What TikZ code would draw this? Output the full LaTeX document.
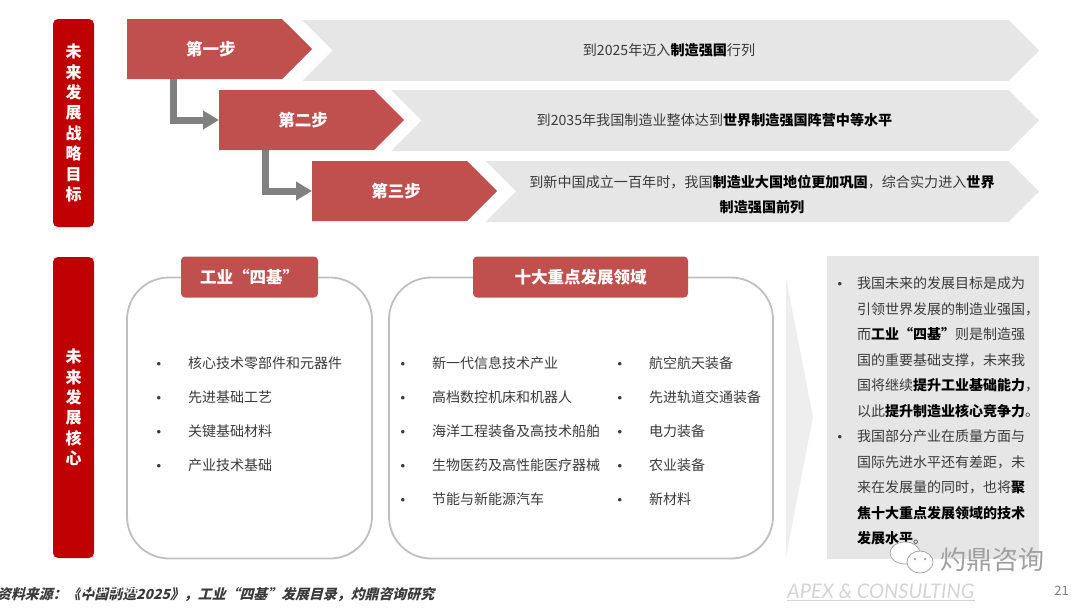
\documentclass[tikz,border=0pt]{standalone}
\usepackage{fontspec}
\usepackage{xcolor}
\usetikzlibrary{arrows.meta,positioning,calc,shapes.symbols}
\setmainfont{Noto Sans CJK SC}
\newfontfamily\bulletfont{Liberation Sans}
\newfontfamily\slantfont[FakeSlant=0.25]{Noto Sans CJK SC}
\newfontfamily\brandfont{Lato}[ItalicFont=* Italic]
\definecolor{Crimson}{HTML}{C00000}
\definecolor{Brick}{HTML}{BF504E}
\definecolor{Band}{HTML}{E6E6E6}
\definecolor{Frame}{HTML}{BFBFBF}
\definecolor{Pale}{HTML}{EEEEEE}
\definecolor{Link}{HTML}{808080}
\definecolor{Body}{HTML}{3A3A3A}
\definecolor{Faint}{HTML}{D4D4D4}
\newcommand{\pt}[1]{\textcolor{black}{\textbf{#1}}}
\newcommand{\dotitem}{\llap{{\bulletfont\fontsize{13}{13}\selectfont\textbullet}\hspace{27pt}}}
\newcommand{\dotpara}{\llap{{\bulletfont\fontsize{13}{13}\selectfont\textbullet}\hspace{15pt}}}
\tikzset{
  sidebar/.style={draw=none,fill=Crimson,rounded corners=5pt,text=white,font=\fontsize{16}{20.4}\selectfont\bfseries,align=center,minimum width=41pt},
  stepbox/.style={shape=signal,signal to=east,signal pointer angle=90,fill=Brick,text=white,font=\fontsize{16.5}{20}\selectfont\bfseries,minimum width=185pt,minimum height=60pt,anchor=west,inner sep=0pt,outer sep=0pt,execute at begin node=\hspace{13pt}},
  bandbox/.style={shape=signal,signal to=east,signal from=west,signal pointer angle=90,fill=Band,minimum height=61pt,anchor=east,inner sep=0pt,outer sep=0pt},
  bandtext/.style={text=Body,font=\fontsize{14.1}{25}\selectfont,inner sep=0pt,align=center},
  framebox/.style={draw=Frame,line width=1.8pt,rounded corners=42pt,fill=white},
  tabbox/.style={fill=Brick,text=white,rounded corners=4pt,font=\fontsize{16.5}{20}\selectfont\bfseries,minimum height=41pt},
  listitem/.style={anchor=west,text=Body,font=\fontsize{14}{16}\selectfont,inner sep=0pt},
  steplink/.style={draw=Link,line width=7pt,-{Triangle[length=16pt,width=18pt]}}
}
\begin{document}
\begin{tikzpicture}[x=1pt,y=-1pt]
  \useasboundingbox (0,0) rectangle (1080,608);
  % side labels
  \node[sidebar,minimum height=208pt] (goal) at (73.5,123) {未\\来\\发\\展\\战\\略\\目\\标};
  \node[sidebar,minimum height=301pt] (core) at (73.5,407.5) {未\\来\\发\\展\\核\\心};
  % bands behind the steps
  \node[bandbox,minimum width=737pt] (banda) at (1039,50.5) {};
  \node[bandbox,minimum width=648pt] (bandb) at (1039,120.5) {};
  \node[bandbox,minimum width=553.5pt] (bandc) at (1039,191.5) {};
  \node[bandtext] (bandatext) at (669,50) {到2025年迈入\pt{制造强国}行列};
  \node[bandtext] (bandbtext) at (714.5,120) {到2035年我国制造业整体达到\pt{世界制造强国阵营中等水平}};
  \node[bandtext] (bandctext) at (762,194.5) {到新中国成立一百年时，我国\pt{制造业大国地位更加巩固}，综合实力进入\pt{世界}\\\pt{制造强国前列}};
  % steps
  \node[stepbox] (stepa) at (127,49) {第一步};
  \node[stepbox] (stepb) at (219,120) {第二步};
  \node[stepbox] (stepc) at (312,191) {第三步};
  \draw[steplink] (stepa.south west)++(46.5,0) |- (stepb.west);
  \draw[steplink] (stepb.south west)++(46.5,0) |- (stepc.west);
  % frames
  \node[framebox,minimum width=245pt,minimum height=281pt] (basebox) at (249.5,418) {};
  \node[framebox,minimum width=384pt,minimum height=281pt] (fieldbox) at (581,418) {};
  \node[tabbox,minimum width=137pt] (basetab) at (249.5,277) {工业“四基”};
  \node[tabbox,minimum width=215pt] (fieldtab) at (580.5,277) {十大重点发展领域};
  % four bases
  \node[listitem] (basea) at (188,363) {\dotitem 核心技术零部件和元器件};
  \node[listitem] (baseb) at (188,397) {\dotitem 先进基础工艺};
  \node[listitem] (basec) at (188,431) {\dotitem 关键基础材料};
  \node[listitem] (based) at (188,465) {\dotitem 产业技术基础};
  % ten fields
  \node[listitem] (fielda) at (432,363) {\dotitem 新一代信息技术产业};
  \node[listitem] (fieldb) at (432,397) {\dotitem 高档数控机床和机器人};
  \node[listitem] (fieldc) at (432,431) {\dotitem 海洋工程装备及高技术船舶};
  \node[listitem] (fieldd) at (432,465) {\dotitem 生物医药及高性能医疗器械};
  \node[listitem] (fielde) at (432,499) {\dotitem 节能与新能源汽车};
  \node[listitem] (fieldf) at (649,363) {\dotitem 航空航天装备};
  \node[listitem] (fieldg) at (649,397) {\dotitem 先进轨道交通装备};
  \node[listitem] (fieldh) at (649,431) {\dotitem 电力装备};
  \node[listitem] (fieldi) at (649,465) {\dotitem 农业装备};
  \node[listitem] (fieldj) at (649,499) {\dotitem 新材料};
  % pale arrow and summary
  \fill[Pale] (786,278) -- (813,417) -- (786,557) -- cycle;
  \node[fill=Band,minimum width=212pt,minimum height=303pt,inner sep=0pt] (summary) at (933,407.5) {};
  \node[anchor=north west,align=left,text=Body,inner sep=0pt,font=\fontsize{14}{25.5}\selectfont] (summarytext) at (857,276.5) {%
    \dotpara 我国未来的发展目标是成为\\
    引领世界发展的制造业强国，\\
    而\pt{工业“四基”}则是制造强\\
    国的重要基础支撑，未来我\\
    国将继续\pt{提升工业基础能力}，\\
    以此\pt{提升制造业核心竞争力}。\\
    \dotpara 我国部分产业在质量方面与\\
    国际先进水平还有差距，未\\
    来在发展量的同时，也将\pt{聚}\\
    \pt{焦十大重点发展领域的技术}\\
    \pt{发展水平}。};
  % footer
  \node[anchor=west,inner sep=0pt,text=Body,font=\fontsize{13.9}{16}\selectfont\slantfont\bfseries] (source) at (-3,595) {资料来源：《中国制造2025》，工业“四基”发展目录，灼鼎咨询研究};
  \node[anchor=west,inner sep=0pt,text=white,font=\fontsize{21}{24}\selectfont] (markleft) at (57,585) {大数跨境};
  \node[anchor=west,inner sep=0pt,text=Faint,font=\fontsize{20.1}{22}\selectfont\brandfont\itshape] (brand) at (787,591) {APEX \& CONSULTING};
  \draw[Faint,line width=0.8pt] (787,600.5) -- (975,600.5);
  \node[anchor=east,inner sep=0pt,text=Link,font=\fontsize{13}{14}\selectfont] (pagenum) at (1069,591) {21};
  \fill[white,draw=Link!70,line width=0.8pt] (905,553) ellipse (15pt and 11pt);
  \fill[white,draw=Link!70,line width=0.8pt] (920,562) ellipse (13pt and 11pt);
  \fill[Link!70] (915,559) circle (1.3pt) (925,559) circle (1.3pt);
  \node[anchor=west,inner sep=0pt,text=Link!75,font=\fontsize{26}{30}\selectfont] (markright) at (940,560) {灼鼎咨询};
\end{tikzpicture}
\end{document}
